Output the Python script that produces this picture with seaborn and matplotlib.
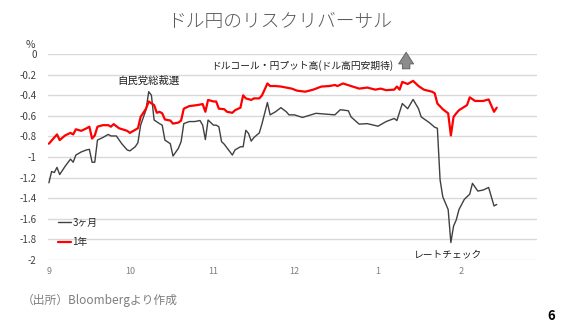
import matplotlib
matplotlib.use("Agg")
import matplotlib.pyplot as plt
import matplotlib.dates as mdates
from matplotlib.ticker import FuncFormatter, MultipleLocator
import numpy as np
import pandas as pd
import seaborn as sns

# USD/JPY 25-delta risk reversal (%), 3-month tenor
dates_3m = [
    "2025-09-01", "2025-09-02", "2025-09-03", "2025-09-04", "2025-09-05",
    "2025-09-07", "2025-09-09", "2025-09-10", "2025-09-11", "2025-09-13",
    "2025-09-15", "2025-09-16", "2025-09-17", "2025-09-18", "2025-09-19",
    "2025-09-21", "2025-09-23", "2025-09-24", "2025-09-26", "2025-09-28",
    "2025-09-30", "2025-10-01", "2025-10-03", "2025-10-04", "2025-10-05",
    "2025-10-07", "2025-10-08", "2025-10-09", "2025-10-10", "2025-10-12",
    "2025-10-13", "2025-10-14", "2025-10-16", "2025-10-17", "2025-10-19",
    "2025-10-20", "2025-10-21", "2025-10-23", "2025-10-25", "2025-10-27",
    "2025-10-28", "2025-10-29", "2025-10-30", "2025-11-01", "2025-11-02",
    "2025-11-03", "2025-11-04", "2025-11-05", "2025-11-08", "2025-11-09",
    "2025-11-11", "2025-11-12", "2025-11-13", "2025-11-14", "2025-11-15",
    "2025-11-16", "2025-11-18", "2025-11-19", "2025-11-21", "2025-11-22",
    "2025-11-24", "2025-11-26", "2025-11-28", "2025-11-29", "2025-12-01",
    "2025-12-04", "2025-12-09", "2025-12-16", "2025-12-18", "2025-12-21",
    "2025-12-22", "2025-12-25", "2025-12-28", "2026-01-01", "2026-01-04",
    "2026-01-07", "2026-01-08", "2026-01-10", "2026-01-12", "2026-01-14",
    "2026-01-16", "2026-01-17", "2026-01-20", "2026-01-22", "2026-01-23",
    "2026-01-24", "2026-01-25", "2026-01-27", "2026-01-28", "2026-01-29",
    "2026-01-30", "2026-01-31", "2026-02-02", "2026-02-04", "2026-02-05",
    "2026-02-07", "2026-02-09", "2026-02-11", "2026-02-13", "2026-02-14",
]
rr_3m = [
    -1.25, -1.14, -1.15, -1.10, -1.17,
    -1.09, -1.02, -1.05, -0.98, -0.95,
    -0.93, -0.925, -1.05, -1.05, -0.835,
    -0.81, -0.78, -0.795, -0.795, -0.87,
    -0.93, -0.94, -0.90, -0.86, -0.69,
    -0.54, -0.365, -0.40, -0.64, -0.675,
    -0.69, -0.835, -0.87, -0.99, -0.915,
    -0.85, -0.675, -0.655, -0.655, -0.645,
    -0.69, -0.83, -0.64, -0.69, -0.69,
    -0.705, -0.85, -0.875, -0.98, -0.93,
    -0.90, -0.90, -0.74, -0.77, -0.845,
    -0.81, -0.765, -0.675, -0.47, -0.59,
    -0.56, -0.52, -0.56, -0.59, -0.59,
    -0.615, -0.575, -0.59, -0.54, -0.55,
    -0.61, -0.68, -0.675, -0.70, -0.655,
    -0.625, -0.645, -0.48, -0.53, -0.44,
    -0.53, -0.61, -0.665, -0.71, -0.72,
    -1.22, -1.385, -1.51, -1.83, -1.67,
    -1.61, -1.51, -1.41, -1.36, -1.255,
    -1.33, -1.32, -1.295, -1.475, -1.46,
]

# 1-year tenor
dates_1y = [
    "2025-09-01", "2025-09-03", "2025-09-04", "2025-09-05", "2025-09-07",
    "2025-09-09", "2025-09-10", "2025-09-11", "2025-09-13", "2025-09-15",
    "2025-09-16", "2025-09-17", "2025-09-18", "2025-09-19", "2025-09-21",
    "2025-09-23", "2025-09-24", "2025-09-25", "2025-09-27", "2025-09-30",
    "2025-10-01", "2025-10-04", "2025-10-05", "2025-10-07", "2025-10-08",
    "2025-10-10", "2025-10-11", "2025-10-12", "2025-10-13", "2025-10-14",
    "2025-10-16", "2025-10-17", "2025-10-19", "2025-10-20", "2025-10-21",
    "2025-10-23", "2025-10-26", "2025-10-28", "2025-10-29", "2025-10-30",
    "2025-11-01", "2025-11-02", "2025-11-03", "2025-11-05", "2025-11-06",
    "2025-11-08", "2025-11-09", "2025-11-11", "2025-11-12", "2025-11-13",
    "2025-11-15", "2025-11-16", "2025-11-18", "2025-11-19", "2025-11-21",
    "2025-11-22", "2025-11-24", "2025-11-26", "2025-11-28", "2025-11-30",
    "2025-12-02", "2025-12-05", "2025-12-08", "2025-12-11", "2025-12-14",
    "2025-12-16", "2025-12-17", "2025-12-19", "2025-12-22", "2025-12-25",
    "2025-12-28", "2025-12-31", "2026-01-02", "2026-01-04", "2026-01-07",
    "2026-01-08", "2026-01-09", "2026-01-10", "2026-01-12", "2026-01-14",
    "2026-01-16", "2026-01-18", "2026-01-21", "2026-01-22", "2026-01-23",
    "2026-01-25", "2026-01-27", "2026-01-28", "2026-01-29", "2026-01-30",
    "2026-01-31", "2026-02-03", "2026-02-04", "2026-02-06", "2026-02-09",
    "2026-02-11", "2026-02-13", "2026-02-14",
]
rr_1y = [
    -0.87, -0.81, -0.78, -0.835, -0.79,
    -0.765, -0.78, -0.73, -0.745, -0.72,
    -0.705, -0.82, -0.79, -0.705, -0.69,
    -0.69, -0.705, -0.68, -0.72, -0.745,
    -0.765, -0.72, -0.61, -0.53, -0.46,
    -0.495, -0.57, -0.56, -0.575, -0.635,
    -0.645, -0.675, -0.665, -0.645, -0.53,
    -0.505, -0.495, -0.485, -0.56, -0.445,
    -0.46, -0.46, -0.53, -0.535, -0.56,
    -0.57, -0.545, -0.52, -0.40, -0.43,
    -0.445, -0.43, -0.43, -0.40, -0.285,
    -0.31, -0.31, -0.315, -0.325, -0.335,
    -0.355, -0.365, -0.345, -0.315, -0.31,
    -0.30, -0.31, -0.285, -0.31, -0.335,
    -0.325, -0.345, -0.335, -0.35, -0.345,
    -0.315, -0.345, -0.27, -0.29, -0.26,
    -0.31, -0.345, -0.365, -0.38, -0.48,
    -0.535, -0.575, -0.79, -0.61, -0.575,
    -0.545, -0.495, -0.42, -0.455, -0.455,
    -0.44, -0.56, -0.52,
]

series_names = ["3ヶ月", "1年"]
series_colors = ["#404040", "#FF0000"]
series_widths = [1.0, 1.6]
month_labels = ["9", "10", "11", "12", "1", "2"]
month_starts = ["2025-09-01", "2025-10-01", "2025-11-01", "2025-12-01",
                "2026-01-01", "2026-02-01"]
y_ticks = [0, -0.2, -0.4, -0.6, -0.8, -1, -1.2, -1.4, -1.6, -1.8, -2]

df = pd.concat([
    pd.DataFrame({"日付": pd.to_datetime(dates_3m), "RR": rr_3m, "期間": series_names[0]}),
    pd.DataFrame({"日付": pd.to_datetime(dates_1y), "RR": rr_1y, "期間": series_names[1]}),
], ignore_index=True)

sns.set_theme(style="white")
plt.rcParams["font.family"] = ["Noto Sans CJK JP", "DejaVu Sans"]

fig = plt.figure(figsize=(5.77, 3.30), dpi=100)
ax = fig.add_axes([0.083, 0.212, 0.848, 0.624])

for name, color, lw in zip(series_names, series_colors, series_widths):
    sns.lineplot(data=df[df["期間"] == name], x="日付", y="RR", color=color,
                 linewidth=lw, label=name, ax=ax, estimator=None, sort=True)

ax.set_xlim(pd.Timestamp("2025-08-31 15:00"), pd.Timestamp("2026-03-01"))
ax.set_ylim(-2, 0)
ax.set_yticks(y_ticks)
ax.yaxis.set_major_formatter(FuncFormatter(lambda v, _: f"{v:g}" if v != 0 else "0"))
ax.set_xticks(pd.to_datetime(month_starts))
ax.set_xticklabels(month_labels)
ax.tick_params(axis="y", length=0, pad=8, labelsize=7, labelcolor="#404040")
ax.tick_params(axis="x", length=0, pad=5, labelsize=6.5, labelcolor="#7f7f7f")
ax.set_xlabel("")
ax.set_ylabel("")
ax.grid(axis="y", color="#d9d9d9", linewidth=1.0)
ax.grid(axis="x", visible=False)
for side in ["top", "right", "left", "bottom"]:
    ax.spines[side].set_visible(False)

leg = ax.legend(loc="upper left", bbox_to_anchor=(0.02, 0.205), frameon=False,
                fontsize=7, handlelength=1.35, handletextpad=0.15,
                labelspacing=0.95, borderpad=0, borderaxespad=0)

# annotations
ax.text(pd.Timestamp("2025-10-08"), -0.26, "自民党総裁選", ha="center", va="center",
        fontsize=7.5, color="#202020")
ax.text(pd.Timestamp("2025-12-04"), -0.107, "ドルコール・円プット高(ドル高円安期待)",
        ha="center", va="center", fontsize=7, color="#202020")
ax.annotate("", xy=(pd.Timestamp("2026-01-11 10:00"), 0.045),
            xytext=(pd.Timestamp("2026-01-11 10:00"), -0.17),
            arrowprops=dict(arrowstyle="simple,head_length=0.7,head_width=0.9,tail_width=0.45",
                            fc="#8c8c8c", ec="#595959", lw=0.6),
            annotation_clip=False)
ax.text(pd.Timestamp("2026-01-27"), -1.94, "レートチェック", ha="center", va="center",
        fontsize=7, color="#202020")

fig.text(0.052, 0.865, "%", ha="center", va="center", fontsize=7.5, color="#404040")
fig.text(0.485, 0.933, "ドル円のリスクリバーサル", ha="center", va="center",
         fontsize=13.5, color="#595959", fontweight="light")
fig.text(0.038, 0.09, "（出所）Bloombergより作成", ha="left", va="center",
         fontsize=8.5, color="#7f7f7f")
fig.text(0.955, 0.043, "6", ha="center", va="center", fontsize=9.5,
         fontweight="bold", color="#000000")

fig.savefig("out.png", dpi=100)
